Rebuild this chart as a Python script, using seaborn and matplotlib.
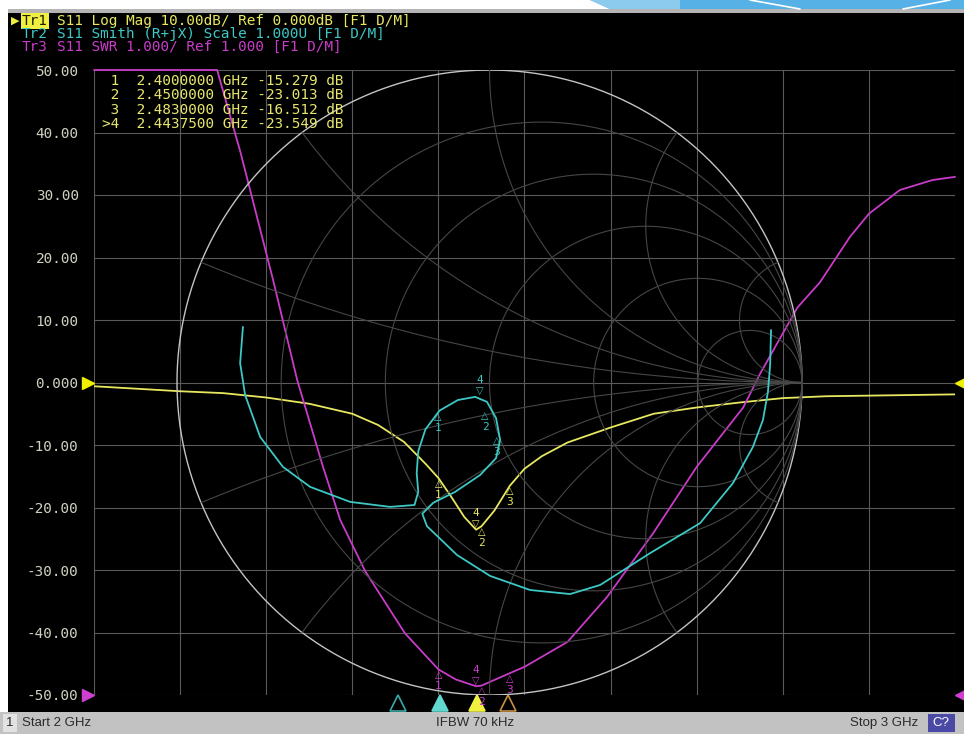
import numpy as np
import pandas as pd
import matplotlib
matplotlib.use("Agg")
import matplotlib.pyplot as plt
import seaborn as sns
from matplotlib.patches import Rectangle, Polygon
from matplotlib.lines import Line2D

# Tr1: S11 log mag (dB) vs frequency (GHz)
freq_mag = [2.000, 2.050, 2.100, 2.150, 2.200, 2.250, 2.300, 2.330, 2.360, 2.385,
            2.400, 2.415, 2.430, 2.4437, 2.450, 2.465, 2.483, 2.500, 2.520, 2.550,
            2.600, 2.650, 2.700, 2.750, 2.800, 2.850, 2.900, 2.950, 3.000]
s11_db = [-0.6, -1.0, -1.4, -1.7, -2.4, -3.4, -5.0, -6.8, -9.5, -13.0,
          -15.28, -18.3, -21.5, -23.55, -23.01, -20.5, -16.51, -13.8, -11.8, -9.6,
          -7.2, -5.0, -4.0, -3.2, -2.5, -2.2, -2.1, -2.0, -1.9]

# Tr3: S11 SWR vs frequency
freq_swr = [2.000, 2.050, 2.100, 2.143, 2.170, 2.208, 2.236, 2.266, 2.286, 2.315,
            2.361, 2.400, 2.420, 2.4437, 2.450, 2.483, 2.500, 2.550, 2.596, 2.650,
            2.700, 2.754, 2.774, 2.817, 2.843, 2.878, 2.900, 2.936, 2.974, 3.000]
swr = [24.0, 18.0, 13.5, 11.0, 9.69, 7.64, 6.04, 4.65, 3.8, 2.98,
       1.99, 1.41, 1.25, 1.14, 1.15, 1.35, 1.45, 1.85, 2.57, 3.6,
       4.65, 5.6, 6.15, 7.2, 7.6, 8.33, 8.7, 9.08, 9.24, 9.29]

# Tr2: S11 on the Smith chart (reflection coefficient)
gam_re = [-0.789, -0.798, -0.782, -0.734, -0.661, -0.574, -0.446, -0.318, -0.240, -0.228,
          -0.233, -0.228, -0.205, -0.160, -0.101, -0.046, -0.008, 0.021, 0.034, 0.021,
          -0.030, -0.110, -0.180, -0.215, -0.200, -0.158, -0.104, 0.002, 0.130, 0.258,
          0.354, 0.514, 0.674, 0.779, 0.843, 0.875, 0.891, 0.898, 0.901]
gam_im = [0.178, 0.062, -0.040, -0.174, -0.270, -0.334, -0.382, -0.398, -0.392, -0.350,
          -0.290, -0.220, -0.150, -0.090, -0.056, -0.046, -0.062, -0.114, -0.184, -0.242,
          -0.296, -0.350, -0.385, -0.420, -0.460, -0.500, -0.552, -0.619, -0.664, -0.677,
          -0.648, -0.546, -0.450, -0.322, -0.206, -0.120, -0.030, 0.056, 0.168]

# markers
mk_num = [1, 2, 3, 4]
mk_freq = [2.4, 2.45, 2.483, 2.44375]
mk_db = [-15.279, -23.013, -16.512, -23.549]
mk_swr = [1.41, 1.15, 1.35, 1.14]
mk_gre = [-0.165, -0.014, 0.024, -0.030]
mk_gim = [-0.092, -0.088, -0.168, -0.046]

ytick_vals = [50, 40, 30, 20, 10, 0, -10, -20, -30, -40, -50]
ytick_text = ["50.00", "40.00", "30.00", "20.00", "10.00", "0.000",
              "-10.00", "-20.00", "-30.00", "-40.00", "-50.00"]

YEL = "#e8e860"
CYA = "#3cc8c4"
MAG = "#c83cc8"
MONO = "DejaVu Sans Mono"

sns.set_style("dark")
W, H = 964, 734
fig = plt.figure(figsize=(9.64, 7.34), dpi=100, facecolor="black")


def fx(px):
    return px / W


def fy(py):
    return 1 - py / H


def band(x0, y0, x1, y1, color, z=-5):
    fig.add_artist(Rectangle((fx(x0), fy(y1)), fx(x1) - fx(x0), fy(y0) - fy(y1),
                             transform=fig.transFigure, facecolor=color,
                             edgecolor="none", zorder=z))


# screen frame bits
band(0, 0, 964, 10, "white")
fig.add_artist(Polygon([(fx(590), fy(0)), (fx(964), fy(0)), (fx(964), fy(9)), (fx(610), fy(9))],
                       closed=True, transform=fig.transFigure, facecolor="#56b2e6",
                       edgecolor="none", zorder=-4))
fig.add_artist(Polygon([(fx(590), fy(0)), (fx(680), fy(0)), (fx(680), fy(9)), (fx(610), fy(9))],
                       closed=True, transform=fig.transFigure, facecolor="#8ccbee",
                       edgecolor="none", zorder=-4))
for (a, b, c, d) in [(750, 0, 800, 9), (903, 9, 950, 0)]:
    fig.add_artist(Line2D([fx(a), fx(c)], [fy(b), fy(d)], transform=fig.transFigure,
                          color="white", lw=1.2, zorder=-3))
band(8, 9, 964, 13, "#b4b4b4")
band(0, 0, 8, 712, "white")
band(0, 712, 964, 734, "#c2c2c2")
band(3, 714, 17, 732, "#e2e2e2", z=-4)
band(928, 714, 955, 732, "#4a4aa6", z=-4)

rect = [fx(94), fy(695), 861 / W, 625 / H]
ax = fig.add_axes(rect)
ax.set_facecolor("black")
ax.set_xlim(2, 3)
ax.set_ylim(-50, 50)
ax.set_xticks(np.arange(2.0, 3.001, 0.1))
ax.set_xticklabels([])
ax.set_yticks(ytick_vals)
ax.set_yticklabels(ytick_text, family=MONO)
ax.tick_params(length=0, pad=11, labelsize=10.4, labelcolor="#d0d0c0")
ax.grid(True, color="#5a5a5a", lw=0.8)
for s in ax.spines.values():
    s.set_visible(False)

mag_df = pd.DataFrame({"freq": freq_mag, "db": s11_db})
sns.lineplot(data=mag_df, x="freq", y="db", ax=ax, color=YEL, lw=1.3, zorder=4)
ax.set_xlabel("")
ax.set_ylabel("")

# SWR on its own scale: ref 1.000 at bottom, 1.000/div
ax_swr = ax.twinx()
ax_swr.set_ylim(1, 11)
ax_swr.axis("off")
swr_df = pd.DataFrame({"freq": freq_swr, "swr": np.minimum(swr, 11)})
sns.lineplot(data=swr_df, x="freq", y="swr", ax=ax_swr, color=MAG, lw=1.3, clip_on=False)

# Smith chart overlay
ax_sm = fig.add_axes(rect)
ax_sm.set_xlim(-1.2656, 1.4896)
ax_sm.set_ylim(-1, 1)
ax_sm.axis("off")
ax_sm.patch.set_alpha(0)

t = np.linspace(0, 2 * np.pi, 400)
ax_sm.plot(np.cos(t), np.sin(t), color="#c4c4c4", lw=1.0)
SMG = "#464646"
for r in [0.2, 0.5, 1, 2, 5]:
    c, rad = r / (1 + r), 1 / (1 + r)
    ax_sm.plot(c + rad * np.cos(t), rad * np.sin(t), color=SMG, lw=0.8)
rr = np.concatenate([np.linspace(0, 5, 300), np.logspace(0.7, 4, 200)])
for xv in [0.2, 0.5, 1, 2, 5]:
    for sgn in [1, -1]:
        z = rr + 1j * sgn * xv
        g = (z - 1) / (z + 1)
        ax_sm.plot(g.real, g.imag, color=SMG, lw=0.8)

sm_df = pd.DataFrame({"re": gam_re, "im": gam_im})
sns.lineplot(data=sm_df, x="re", y="im", ax=ax_sm, sort=False, estimator=None,
             color=CYA, lw=1.3)
ax_sm.set_xlabel("")
ax_sm.set_ylabel("")


def draw_markers(axis, xs, ys, color):
    for n, x, y in zip(mk_num, xs, ys):
        if n == 4:
            axis.annotate("▽", (x, y), xytext=(0, 4), textcoords="offset points",
                          ha="center", va="center", color=color, fontsize=7)
            axis.annotate(str(n), (x, y), xytext=(0, 12), textcoords="offset points",
                          ha="center", va="center", color=color, fontsize=8, family=MONO)
        else:
            axis.annotate("△", (x, y), xytext=(0, -4), textcoords="offset points",
                          ha="center", va="center", color=color, fontsize=7)
            axis.annotate(str(n), (x, y), xytext=(0, -12), textcoords="offset points",
                          ha="center", va="center", color=color, fontsize=8, family=MONO)


draw_markers(ax, mk_freq, mk_db, YEL)
draw_markers(ax_swr, mk_freq, mk_swr, MAG)
draw_markers(ax_sm, mk_gre, mk_gim, CYA)

# reference-level arrows at the edges
ytr = ax.get_yaxis_transform()
for xa, mk in [(-0.0065, ">"), (1.0065, "<")]:
    ax.plot([xa], [0], marker=mk, color="#f0f000", ms=9, transform=ytr, clip_on=False)
    ax.plot([xa], [-50], marker=mk, color="#d040d0", ms=9, transform=ytr, clip_on=False)

# marker position indicators under the grid
ind_f = [2.353, 2.402, 2.445, 2.481]
ind_face = ["none", "#60d8d0", "#f0f040", "none"]
ind_edge = ["#3aa8a8", "#60d8d0", "#f0f040", "#c89040"]
for f, fc, ec in zip(ind_f, ind_face, ind_edge):
    ax.plot([f], [-51.3], marker="^", ms=12, mfc=fc, mec=ec, mew=1.2, clip_on=False)

# header lines (trace tag drawn separately, monospaced so columns line up)
CW = 10.4 * 0.602 * 100 / 72
hdr = [("Tr1", "S11 Log Mag 10.00dB/ Ref 0.000dB [F1 D/M]", YEL, 21),
       ("Tr2", "S11 Smith (R+jX) Scale 1.000U [F1 D/M]", CYA, 34),
       ("Tr3", "S11 SWR 1.000/ Ref 1.000 [F1 D/M]", MAG, 47)]
for tag, txt, col, yy in hdr:
    if tag == "Tr1":
        fig.text(fx(22), fy(yy), tag, color="#202000", family=MONO, fontsize=10.4,
                 va="center", bbox=dict(facecolor="#f0f040", edgecolor="none", pad=0.6))
    else:
        fig.text(fx(22), fy(yy), tag, color=col, family=MONO, fontsize=10.4, va="center")
    fig.text(fx(22 + 4 * CW), fy(yy), txt, color=col, family=MONO, fontsize=10.4, va="center")
fig.text(fx(11), fy(21), "▶", color="#f0f040", fontsize=8, va="center")

# marker table
for i, (n, f, v) in enumerate(zip(mk_num, mk_freq, mk_db)):
    lead = ">" if n == 4 else " "
    line = f"{lead}{n}  {f:.7f} GHz {v:.3f} dB"
    fig.text(fx(102), fy(81 + i * 14.4), line, color="#e6e66e", family=MONO,
             fontsize=10.4, va="center")

# status bar
SB = "#2a2a2a"
LS = "Liberation Sans"
fig.text(fx(10), fy(723), "1", color=SB, fontsize=9.5, ha="center", va="center", family=LS)
fig.text(fx(22), fy(723), "Start 2 GHz", color=SB, fontsize=9.5, va="center", family=LS)
fig.text(fx(475), fy(723), "IFBW 70 kHz", color=SB, fontsize=9.5, ha="center", va="center", family=LS)
fig.text(fx(918), fy(723), "Stop 3 GHz", color=SB, fontsize=9.5, ha="right", va="center", family=LS)
fig.text(fx(941), fy(723), "C?", color="white", fontsize=9.5, ha="center", va="center", family=LS)

fig.savefig("out.png", dpi=100, facecolor=fig.get_facecolor())
